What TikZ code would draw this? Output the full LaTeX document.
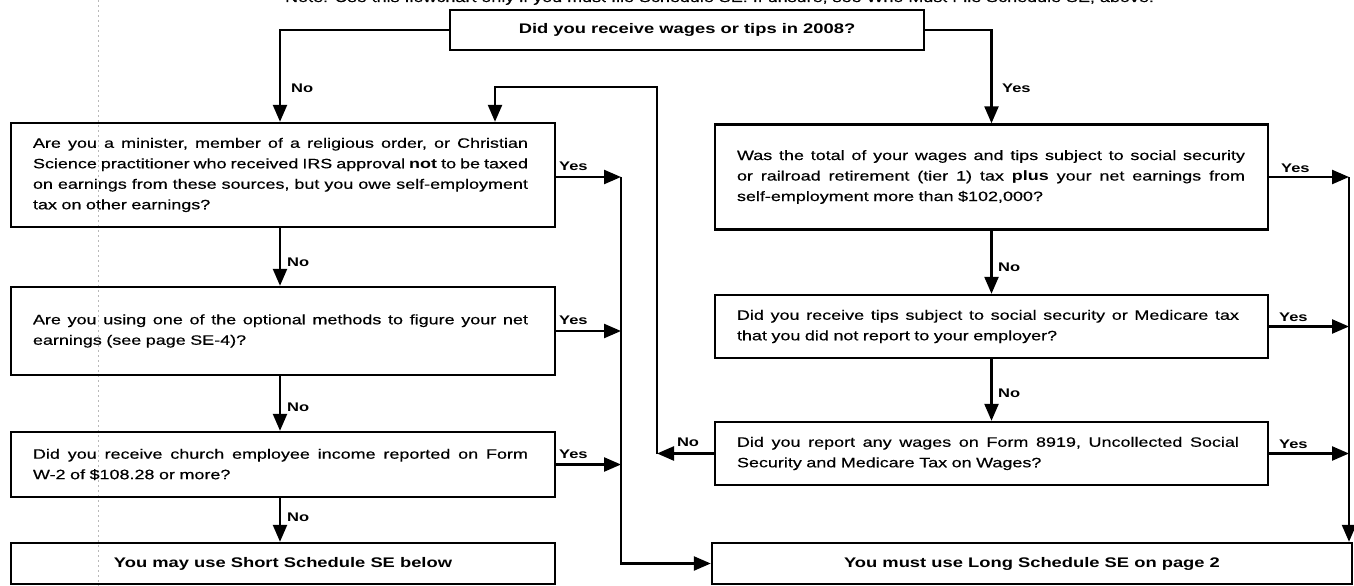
\documentclass[tikz,border=0pt]{standalone}
\usepackage{fontspec}
\setmainfont{Liberation Sans}
\newfontfamily\df[FakeStretch=1.32, UprightFeatures={FakeBold=0.45}]{Liberation Sans}
\usetikzlibrary{arrows.meta}
\newcommand\fullline[2][495pt]{\noindent\hbox to#1{\frenchspacing\spaceskip=\fontdimen2\font plus 1fil minus 0.08em\relax #2}\par}
\newcommand\lastline[1]{\noindent\hbox{#1}\par}
\begin{document}
\begin{tikzpicture}[x=1pt,y=-1pt,
  box/.style={draw, line width=2.4pt, rectangle, inner xsep=0pt, inner ysep=0pt,
    font=\df\fontsize{13.6}{20.5}\selectfont},
  qL/.style={box, text width=500pt, minimum width=544pt},
  qR/.style={box, text width=509pt, minimum width=553pt},
  endbox/.style={box, font=\df\bfseries\fontsize{13.9}{20}\selectfont},
  lab/.style={inner sep=0pt, font=\df\bfseries\fontsize{12.5}{14}\selectfont},
  conn/.style={line width=2.4pt, -{Triangle[length=17pt,width=14pt]}}]
\useasboundingbox (0,0) rectangle (1354,586);
\begin{scope}
\clip (0,0) rectangle (1354,586);
\node[anchor=base west, inner sep=0pt, font=\df\fontsize{13.6}{20}\selectfont] (hdr) at (285,2)
  {Note. Use this flowchart only if you must file Schedule SE. If unsure, see Who Must File Schedule SE, above.};
\end{scope}
\draw[gray!55, line width=0.6pt, dash pattern=on 2pt off 3pt] (98,0) -- (98,586);

% boxes
\node[endbox, minimum width=474pt, minimum height=40pt] (top) at (687,30) {Did you receive wages or tips in 2008?};

\node[qL, minimum height=104pt] (l1) at (283,175) {%
\fullline{Are you a minister, member of a religious order, or Christian}%
\fullline{Science practitioner who received IRS approval \textbf{not} to be taxed}%
\fullline{on earnings from these sources, but you owe self-employment}%
\lastline{tax on other earnings?}};

\node[qL, minimum height=88pt] (l2) at (283,331) {%
\fullline{Are you using one of the optional methods to figure your net}%
\lastline{earnings (see page SE-4)?}};

\node[qL, minimum height=65pt] (l3) at (283,464.5) {%
\fullline{Did you receive church employee income reported on Form}%
\lastline{W-2 of \$108.28 or more?}};

\node[endbox, minimum width=544pt, minimum height=41pt] (short) at (283,563.5) {You may use Short Schedule SE below};

\node[qR, minimum height=105pt] (r1) at (991.5,177) {%
\fullline[508pt]{Was the total of your wages and tips subject to social security}%
\fullline[508pt]{or railroad retirement (tier 1) tax \textbf{plus} your net earnings from}%
\lastline{self-employment more than \$102,000?}};

\node[qR, minimum height=63pt] (r2) at (991.5,326.5) {%
\fullline[502pt]{Did you receive tips subject to social security or Medicare tax}%
\lastline{that you did not report to your employer?}};

\node[qR, minimum height=63pt] (r3) at (991.5,453.5) {%
\fullline[502pt]{Did you report any wages on Form 8919, Uncollected Social}%
\lastline{Security and Medicare Tax on Wages?}};

\node[endbox, minimum width=640pt, minimum height=41pt] (long) at (1032,563.5) {You must use Long Schedule SE on page 2};

% helper coordinates
\coordinate (cL) at (280,0);
\coordinate (lx) at (657,87);
\coordinate (lk) at (495,87);
\coordinate (bL) at (621,0);
\coordinate (bR) at (1349,0);

% top branches
\draw[conn] (top.west) -- (top.west -| cL) -- (l1.north -| cL);
\node[lab, anchor=west] (noA) at (291,88) {No};
\draw[conn] (top.east) -- (top.east -| r1.north) -- (r1.north);
\node[lab, anchor=west] (yesA) at (1002,88) {Yes};

% left chain
\draw[conn] (l1.south -| cL) -- (l2.north -| cL);
\node[lab, anchor=west] (noB) at (287,262) {No};
\draw[conn] (l2.south -| cL) -- (l3.north -| cL);
\node[lab, anchor=west] (noC) at (287,407) {No};
\draw[conn] (l3.south -| cL) -- (short.north -| cL);
\node[lab, anchor=west] (noD) at (287,517) {No};

% right chain
\draw[conn] (r1.south) -- (r2.north);
\node[lab, anchor=west] (noE) at (998,267) {No};
\draw[conn] (r2.south) -- (r3.north);
\node[lab, anchor=west] (noF) at (998,393) {No};

% loop from r3 back to l1
\draw[conn] (r3.west) -- (r3.west -| lx);
\node[lab, anchor=south] (noG) at (688,447) {No};
\draw[conn] (r3.west -| lx) -- (lx) -- (lk) -- (lk |- l1.north);

% left yes bus
\draw[conn] ([yshift=-2pt]l1.east) -- ([yshift=-2pt]l1.east -| bL);
\node[lab, anchor=south west] (yesB) at (559,171) {Yes};
\draw[conn] (l2.east) -- (l2.east -| bL);
\node[lab, anchor=south west] (yesC) at (559,325) {Yes};
\draw[conn] (l3.east) -- (l3.east -| bL);
\node[lab, anchor=south west] (yesD) at (559,459) {Yes};
\draw[conn] ([yshift=-2pt]l1.east -| bL) -- (bL |- long.west) -- (long.west);

% right yes bus
\draw[conn] (r1.east) -- (r1.east -| bR);
\node[lab, anchor=south west] (yesE) at (1281,173) {Yes};
\draw[conn] (r2.east) -- (r2.east -| bR);
\node[lab, anchor=south west] (yesF) at (1279,322) {Yes};
\draw[conn] (r3.east) -- (r3.east -| bR);
\node[lab, anchor=south west] (yesG) at (1279,449) {Yes};
\draw[conn] (r1.east -| bR) -- (bR |- long.north);
\end{tikzpicture}
\end{document}
